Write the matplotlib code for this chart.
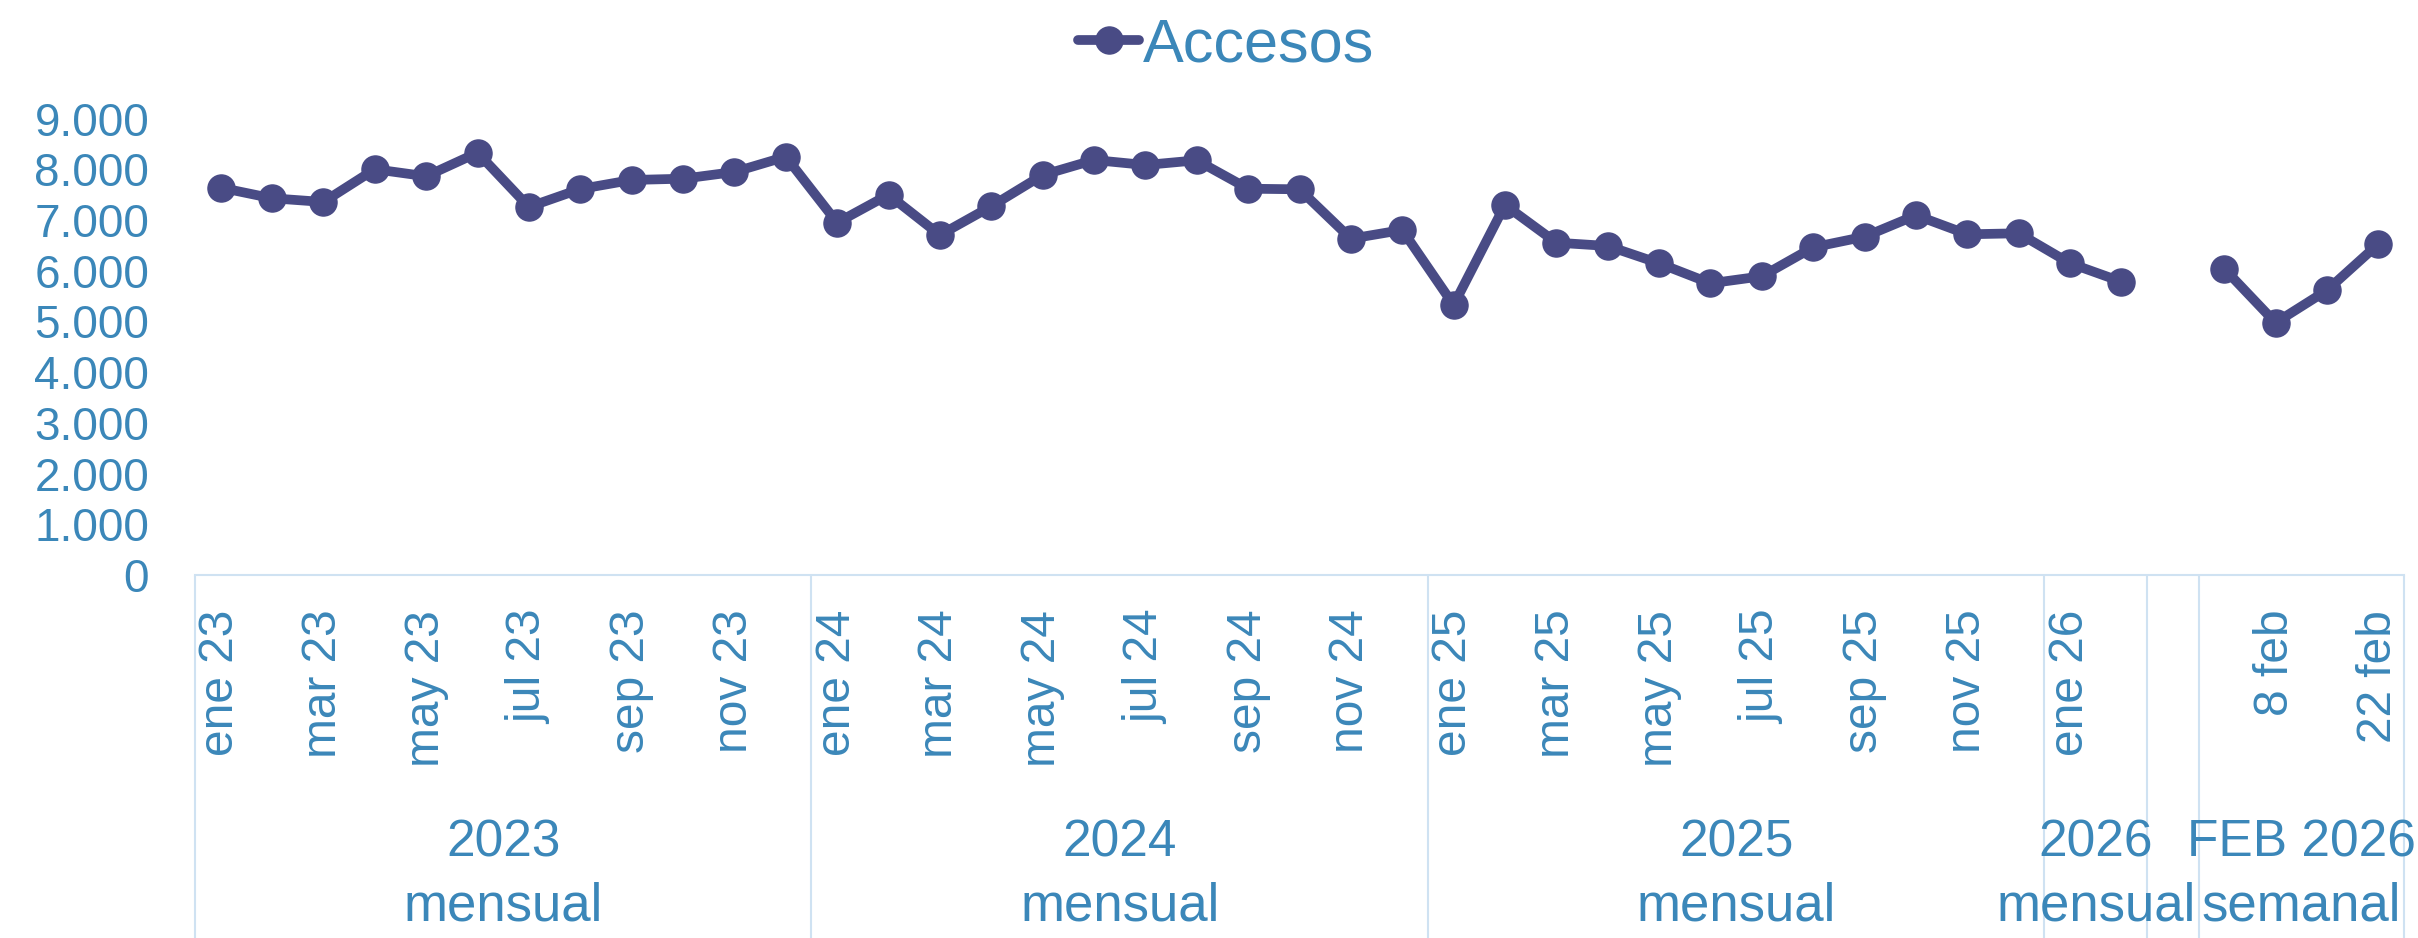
import numpy as np
import matplotlib.pyplot as plt
from matplotlib.transforms import blended_transform_factory

# accesos mensuales y semanales
meses_2023 = ['ene 23', 'feb 23', 'mar 23', 'abr 23', 'may 23', 'jun 23',
              'jul 23', 'ago 23', 'sep 23', 'oct 23', 'nov 23', 'dic 23']
meses_2024 = ['ene 24', 'feb 24', 'mar 24', 'abr 24', 'may 24', 'jun 24',
              'jul 24', 'ago 24', 'sep 24', 'oct 24', 'nov 24', 'dic 24']
meses_2025 = ['ene 25', 'feb 25', 'mar 25', 'abr 25', 'may 25', 'jun 25',
              'jul 25', 'ago 25', 'sep 25', 'oct 25', 'nov 25', 'dic 25']
meses_2026 = ['ene 26', 'feb 26']
semanas_feb = ['1 feb', '8 feb', '15 feb', '22 feb']

valores_2023 = [7636, 7427, 7354, 8000, 7861, 8326, 7256, 7610, 7788, 7813, 7946, 8247]
valores_2024 = [6946, 7498, 6703, 7269, 7886, 8182, 8083, 8176, 7616, 7604, 6631, 6802]
valores_2025 = [5323, 7295, 6552, 6487, 6145, 5751, 5889, 6461, 6670, 7092, 6717, 6737]
valores_2026 = [6145, 5783]
valores_semanal = [6039, 4974, 5613, 6526]

grupos = [('2023', 'mensual'), ('2024', 'mensual'), ('2025', 'mensual'),
          ('2026', 'mensual'), ('', ''), ('FEB 2026', 'semanal')]
tam_grupos = [12, 12, 12, 2, 1, 4]

y_ticks = [0, 1000, 2000, 3000, 4000, 5000, 6000, 7000, 8000, 9000]
y_labels = ['0', '1.000', '2.000', '3.000', '4.000', '5.000', '6.000', '7.000', '8.000', '9.000']

AZUL = '#3B87B9'
LINEA = '#494B85'
SEPARADOR = '#CFE2F2'

categorias = meses_2023 + meses_2024 + meses_2025 + meses_2026 + [''] + semanas_feb
valores = valores_2023 + valores_2024 + valores_2025 + valores_2026 + [np.nan] + valores_semanal

plt.rcParams['font.family'] = ['Liberation Sans', 'DejaVu Sans']

W, H = 2418, 938
fig = plt.figure(figsize=(W / 100, H / 100), dpi=100)
ax = fig.add_axes([195 / W, 1 - 575 / H, (2404 - 195) / W, (575 - 118.5) / H])

x = np.arange(len(categorias))
ax.plot(x, valores, color=LINEA, lw=7, marker='o', ms=19.5, label='Accesos',
        clip_on=False, solid_capstyle='round', solid_joinstyle='round')

ax.set_xlim(-0.5, len(categorias) - 0.5)
ax.set_ylim(0, 9000)

ax.set_yticks(y_ticks)
ax.set_yticklabels(y_labels)
ax.tick_params(axis='y', length=0, pad=33, labelsize=33, labelcolor=AZUL)

pos = list(range(0, len(categorias), 2))
ax.set_xticks(pos)
ax.set_xticklabels([categorias[i] for i in pos], rotation=90)
ax.tick_params(axis='x', length=0, pad=25, labelsize=34.5, labelcolor=AZUL)

for s in ['top', 'right', 'left']:
    ax.spines[s].set_visible(False)
ax.spines['bottom'].set_color(SEPARADOR)
ax.spines['bottom'].set_linewidth(1.5)

# separadores y etiquetas de grupo
trans_v = blended_transform_factory(ax.transData, ax.transAxes)
trans_t = blended_transform_factory(ax.transData, fig.transFigure)
bajo = -(938 - 575) / (575 - 118.5)
inicio = 0
bordes = [inicio - 0.5]
for (anio, tipo), n in zip(grupos, tam_grupos):
    centro = inicio + (n - 1) / 2
    ax.text(centro, 1 - 843 / H, anio, transform=trans_t, ha='center', va='center',
            fontsize=37, color=AZUL)
    ax.text(centro, 1 - 906 / H, tipo, transform=trans_t, ha='center', va='center',
            fontsize=38, color=AZUL)
    inicio += n
    bordes.append(inicio - 0.5)
ax.vlines(bordes, bajo, 0, transform=trans_v, color=SEPARADOR, lw=1.5, clip_on=False)

fig.legend(loc='center', bbox_to_anchor=(1226 / W, 1 - 46 / H), frameon=False,
           fontsize=44, labelcolor=AZUL, handlelength=1.0, handletextpad=0.05)

fig.savefig('out.png', dpi=100)
